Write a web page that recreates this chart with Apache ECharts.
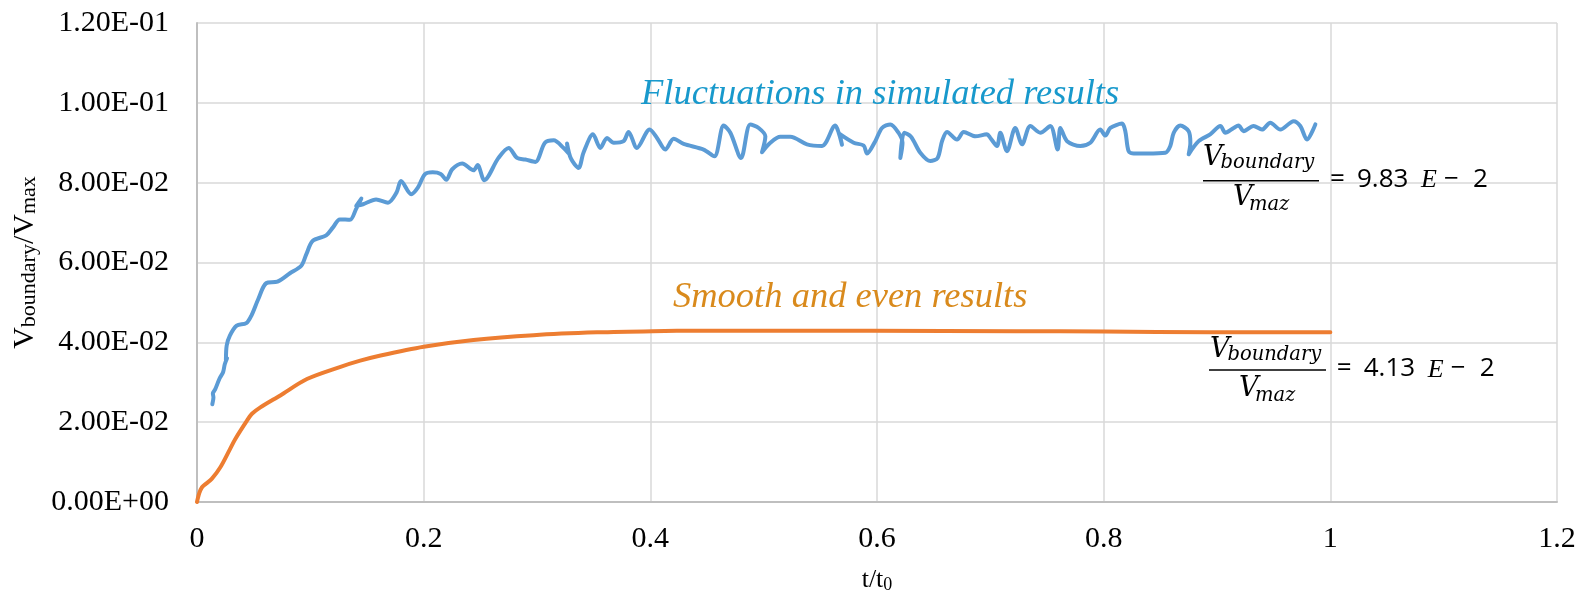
<!DOCTYPE html>
<html><head><meta charset="utf-8">
<script src="https://cdn.jsdelivr.net/npm/echarts@6/dist/echarts.min.js"></script>
<style>html,body{margin:0;padding:0;background:#fff}#c{width:1580px;height:599px}</style>
</head><body><div id="c"></div>
<script>
// ---- data ----
const xTickLabels = ['0', '0.2', '0.4', '0.6', '0.8', '1', '1.2'];
const yTickLabels = ['0.00E+00', '2.00E-02', '4.00E-02', '6.00E-02', '8.00E-02', '1.00E-01', '1.20E-01'];

const blueX = [0.0135,0.0145,0.0140,0.0160,0.0200,0.0230,0.0245,0.0265,0.0255,0.0262,0.0290,0.0350,0.0435,0.0480,0.0540,0.0610,0.0710,0.0820,0.0920,0.0965,0.1020,0.1140,0.1200,0.1260,0.1350,0.1405,0.1450,0.1405,0.1465,0.1580,0.1685,0.1760,0.1800,0.1890,0.1950,0.2010,0.2080,0.2150,0.2200,0.2250,0.2340,0.2440,0.2476,0.2535,0.2660,0.2750,0.2824,0.2897,0.2985,0.3070,0.3147,0.3235,0.3274,0.3265,0.3300,0.3367,0.3410,0.3494,0.3559,0.3618,0.3677,0.3764,0.3808,0.3882,0.3994,0.4059,0.4132,0.4206,0.4294,0.4470,0.4565,0.4647,0.4706,0.4800,0.4882,0.4956,0.5015,0.4985,0.5059,0.5147,0.5235,0.5382,0.5515,0.5632,0.5662,0.5691,0.5670,0.5794,0.5882,0.5912,0.5985,0.6044,0.6118,0.6190,0.6225,0.6206,0.6240,0.6300,0.6382,0.6471,0.6535,0.6574,0.6618,0.6706,0.6765,0.6868,0.6970,0.7000,0.7059,0.7088,0.7147,0.7220,0.7280,0.7353,0.7441,0.7529,0.7594,0.7618,0.7677,0.7794,0.7882,0.7970,0.8015,0.8059,0.8162,0.8191,0.8220,0.8265,0.8382,0.8544,0.8588,0.8618,0.8676,0.8750,0.8765,0.8750,0.8838,0.8940,0.9030,0.9074,0.9147,0.9190,0.9235,0.9323,0.9397,0.9470,0.9559,0.9676,0.9735,0.9794,0.9868];
const blueY = [0.0245,0.0262,0.0272,0.0282,0.0310,0.0325,0.0345,0.0360,0.0355,0.0392,0.0417,0.0442,0.0448,0.0467,0.0508,0.0548,0.0552,0.0573,0.0592,0.0621,0.0654,0.0668,0.0688,0.0708,0.0707,0.0735,0.0760,0.0742,0.0746,0.0758,0.0750,0.0775,0.0804,0.0771,0.0788,0.0821,0.0826,0.0822,0.0807,0.0833,0.0848,0.0831,0.0844,0.0806,0.0862,0.0887,0.0862,0.0858,0.0852,0.0900,0.0906,0.0887,0.0875,0.0898,0.0860,0.0837,0.0875,0.0921,0.0887,0.0912,0.0900,0.0904,0.0927,0.0887,0.0933,0.0912,0.0883,0.0910,0.0897,0.0883,0.0866,0.0943,0.0925,0.0862,0.0946,0.0937,0.0916,0.0876,0.0900,0.0915,0.0915,0.0896,0.0892,0.0943,0.0925,0.0895,0.0922,0.0900,0.0893,0.0873,0.0904,0.0937,0.0946,0.0925,0.0900,0.0862,0.0925,0.0915,0.0875,0.0854,0.0862,0.0904,0.0927,0.0908,0.0927,0.0916,0.0921,0.0912,0.0892,0.0925,0.0879,0.0937,0.0896,0.0942,0.0925,0.0942,0.0883,0.0937,0.0904,0.0892,0.0900,0.0933,0.0918,0.0937,0.0948,0.0929,0.0879,0.0873,0.0873,0.0875,0.0892,0.0925,0.0943,0.0929,0.0900,0.0871,0.0904,0.0921,0.0942,0.0925,0.0937,0.0943,0.0929,0.0942,0.0933,0.0950,0.0933,0.0954,0.0942,0.0908,0.0946];

const orangeX = [0, 0.002, 0.0044, 0.008, 0.013, 0.0206, 0.029, 0.0338, 0.0441, 0.0485, 0.0559, 0.0735, 0.097, 0.126, 0.144, 0.162, 0.2, 0.244, 0.297, 0.353, 0.402, 0.445, 0.52, 0.595, 0.723, 0.8, 0.894, 1.0];
const orangeY = [0, 0.0022, 0.0037, 0.0046, 0.0058, 0.0087, 0.0132, 0.0158, 0.0204, 0.0221, 0.0237, 0.0267, 0.0308, 0.0338, 0.0354, 0.0367, 0.0389, 0.0406, 0.0418, 0.0425, 0.0428, 0.0429, 0.0429, 0.0429, 0.0428, 0.0427, 0.0425, 0.0425];

const annotFluct = 'Fluctuations in simulated results';
const annotSmooth = 'Smooth and even results';
const ratioBlue = '9.83';
const ratioOrange = '4.13';

// ---- chart ----
const chart = echarts.init(document.getElementById('c'), null, {renderer: 'canvas'});
const pair = (xs, ys) => xs.map((x, i) => [x, ys[i]]);
const SERIF = '"Liberation Serif", "Times New Roman", serif';
const MATH = '"DejaVu Serif", serif';
const SANS = '"Open Sans", sans-serif';

function txt(x, baseline, text, fs, family, style, fill, k) {
  const kk = (k === undefined) ? 0.34 : k;
  return {
    type: 'text', silent: true, z: 100,
    style: {
      text: text, x: x, y: baseline - kk * fs,
      font: (style || '') + ' ' + fs + 'px ' + family,
      fill: fill || '#000', textAlign: 'left', textVerticalAlign: 'middle'
    }
  };
}
function hline(x1, x2, y) {
  return {type: 'line', silent: true, z: 100, shape: {x1: x1, y1: y, x2: x2, y2: y}, style: {stroke: '#000', lineWidth: 1.6}};
}
function formula(o, value) {
  return [
    txt(o.nx, o.nb, 'V', 27, MATH, 'italic'),
    txt(o.nx + 17.5, o.nb + 2.5, 'boundary', 19.5, MATH, 'italic'),
    hline(o.l1, o.l2, o.ly),
    txt(o.dx, o.db, 'V', 27, MATH, 'italic'),
    txt(o.dx + 16, o.db + 4.5, 'maz', 19.5, MATH, 'italic'),
    txt(o.ex, o.eb, '=', 26, SANS, '', '#000', 0.39),
    txt(o.ex + 27, o.eb, value, 26, SANS, '', '#000', 0.39),
    txt(o.ex + 91, o.eb, 'E', 26, SERIF, 'italic'),
    txt(o.ex + 114, o.eb, '\u2212', 26, SANS, '', '#000', 0.39),
    txt(o.ex + 143, o.eb, '2', 26, SANS, '', '#000', 0.39)
  ];
}

const graphics = [].concat(
  [txt(641, 107, annotFluct, 36.5, SERIF, 'italic', '#1899CC')],
  [txt(673, 310, annotSmooth, 36.5, SERIF, 'italic', '#D98A1C')],
  formula({nx: 1203, nb: 167.5, l1: 1203, l2: 1319, ly: 180.7, dx: 1233, db: 206.7, ex: 1330, eb: 189.3}, ratioBlue),
  formula({nx: 1210, nb: 359.3, l1: 1209, l2: 1326, ly: 370, dx: 1239, db: 398.3, ex: 1336.7, eb: 379}, ratioOrange)
);

chart.setOption({
  animation: false,
  backgroundColor: '#fff',
  grid: {left: 197, right: 23, top: 23, bottom: 96, containLabel: false},
  xAxis: {
    type: 'value', min: 0, max: 1.2, interval: 0.2,
    name: '{a|t/t}{b|0}', nameLocation: 'middle', nameGap: 64,
    nameTextStyle: {rich: {
      a: {fontFamily: SERIF, fontSize: 26, color: '#000'},
      b: {fontFamily: SERIF, fontSize: 18, color: '#000', verticalAlign: 'bottom', padding: [10, 0, 0, 0]}
    }},
    axisLine: {show: true, onZero: false, lineStyle: {color: '#BFBFBF', width: 2}},
    axisTick: {show: false},
    splitLine: {show: true, lineStyle: {color: '#D9D9D9', width: 1.5}},
    axisLabel: {
      fontFamily: SERIF, fontSize: 30, color: '#000', margin: 22,
      formatter: v => xTickLabels[Math.round(v / 0.2)]
    }
  },
  yAxis: {
    type: 'value', min: 0, max: 0.12, interval: 0.02,
    name: '{a|V}{b|boundary}{a|/V}{b|max}', nameLocation: 'middle', nameGap: 150,
    nameTextStyle: {rich: {
      a: {fontFamily: SERIF, fontSize: 30, color: '#000'},
      b: {fontFamily: SERIF, fontSize: 22, color: '#000', verticalAlign: 'bottom'}
    }},
    axisLine: {show: true, lineStyle: {color: '#BFBFBF', width: 2}},
    axisTick: {show: false},
    splitLine: {show: true, lineStyle: {color: '#D9D9D9', width: 1.5}},
    axisLabel: {
      fontFamily: SERIF, fontSize: 30, color: '#000', margin: 28,
      formatter: v => yTickLabels[Math.round(v / 0.02)]
    }
  },
  series: [
    {type: 'line', name: 'fluct', data: pair(blueX, blueY), showSymbol: false, smooth: 0.3,
     lineStyle: {color: '#5B9BD5', width: 4, cap: 'round', join: 'round'}, itemStyle: {color: '#5B9BD5'}, z: 3},
    {type: 'line', name: 'smooth', data: pair(orangeX, orangeY), showSymbol: false, smooth: 0.3,
     lineStyle: {color: '#ED7D31', width: 4, cap: 'round', join: 'round'}, itemStyle: {color: '#ED7D31'}, z: 4}
  ],
  graphic: graphics
});
</script>
</body></html>
